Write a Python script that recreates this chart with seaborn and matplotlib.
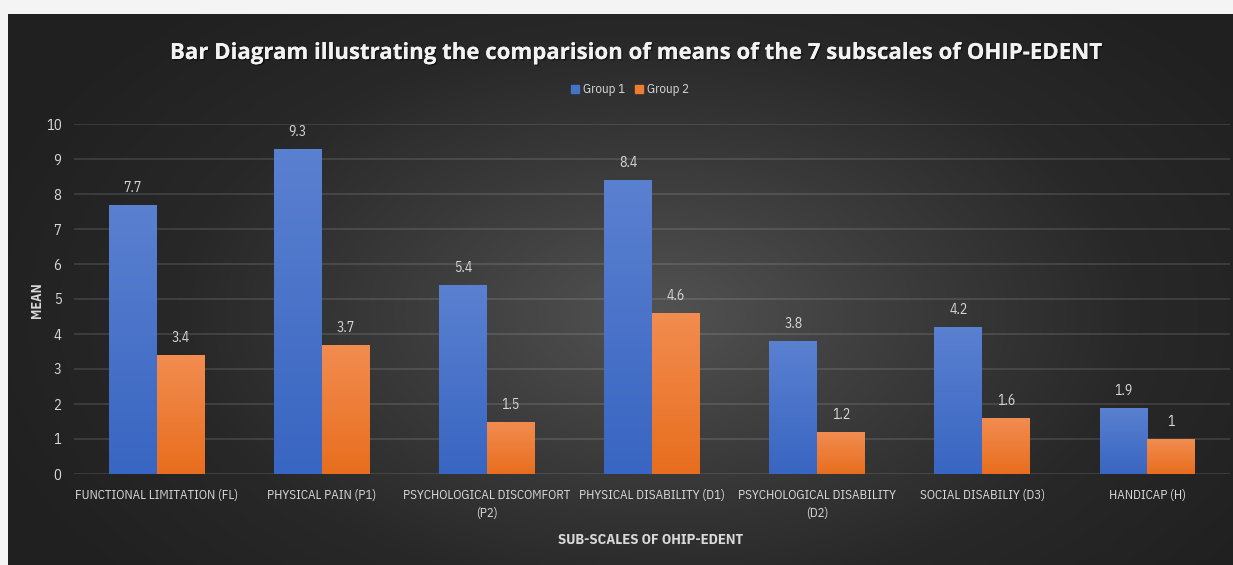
import numpy as np
import pandas as pd
import matplotlib
matplotlib.use("Agg")
import matplotlib.pyplot as plt
import matplotlib.patheffects as pe
import seaborn as sns
from matplotlib import font_manager
from matplotlib.colors import LinearSegmentedColormap

categories = ["FUNCTIONAL LIMITATION (FL)", "PHYSICAL PAIN (P1)", "PSYCHOLOGICAL DISCOMFORT\n(P2)",
              "PHYSICAL DISABILITY (D1)", "PSYCHOLOGICAL DISABILITY\n(D2)", "SOCIAL DISABILIY (D3)", "HANDICAP (H)"]
group1 = [7.7, 9.3, 5.4, 8.4, 3.8, 4.2, 1.9]
group2 = [3.4, 3.7, 1.5, 4.6, 1.2, 1.6, 1.0]
series_names = ["Group 1", "Group 2"]
yticks = [0, 1, 2, 3, 4, 5, 6, 7, 8, 9, 10]

sns.set_theme(style="white")
avail = {f.name for f in font_manager.fontManager.ttflist}
cond = next((n for n in ["IBM Plex Sans Condensed", "Roboto Condensed", "Open Sans"] if n in avail), "DejaVu Sans")
plt.rcParams['font.family'] = [cond, 'DejaVu Sans']

W, H = 1233, 565
fig = plt.figure(figsize=(W / 100, H / 100), dpi=100)
fig.patch.set_facecolor("#f4f4f4")

# background panel with radial gradient
bg = fig.add_axes([8 / W, 0, 1 - 8 / W, 1 - 14 / H])
bg.set_axis_off()
yy, xx = np.mgrid[0:551, 0:1225]
cx, cy = 650, 300
r = np.sqrt(((xx - cx) / 720.0) ** 2 + ((yy - cy) / 420.0) ** 2)
r = np.clip(r, 0, 1)
bgcmap = LinearSegmentedColormap.from_list("bg", ["#525252", "#3c3c3c", "#282828", "#202020"])
bg.imshow(r, cmap=bgcmap, vmin=0, vmax=1, aspect="auto", interpolation="bilinear")

df = pd.DataFrame({
    "cat": categories * 2,
    "mean": group1 + group2,
    "group": [series_names[0]] * len(categories) + [series_names[1]] * len(categories),
})

ax = fig.add_axes([74 / W, (H - 474) / H, 1156 / W, 350 / H])
ax.set_facecolor("none")
palette = {"Group 1": "#4472C4", "Group 2": "#ED7D31"}
sns.barplot(data=df, x="cat", y="mean", hue="group", palette=palette, width=0.58, gap=0,
            saturation=1, ax=ax, errorbar=None, zorder=3)

grads = {0: ["#5a80d0", "#3966c2"], 1: ["#f28c50", "#e86e1e"]}
for ci, cont in enumerate(ax.containers):
    cmap = LinearSegmentedColormap.from_list("g%d" % ci, grads[ci])
    for p in cont.patches:
        x0, y0 = p.get_x(), p.get_y()
        w, h = p.get_width(), p.get_height()
        grad = np.linspace(0, 1, 100).reshape(-1, 1)
        im = ax.imshow(grad, cmap=cmap, extent=(x0, x0 + w, y0, y0 + h), aspect="auto",
                       origin="upper", zorder=3.5, interpolation="bilinear")
        im.set_clip_path(p)
        p.set_edgecolor("none")
    vals = [c.get_height() for c in cont.patches]
    labs = [("%g" % v) for v in vals]
    ax.bar_label(cont, labels=labs, padding=7, color="#d9d9d9", fontsize=10, zorder=5)

ax.set_xlim(-0.5, len(categories) - 0.5)
ax.set_ylim(0, 10)
ax.set_yticks(yticks)
ax.yaxis.grid(True, color="#ffffff", alpha=0.13, linewidth=1.2, zorder=0)
ax.set_axisbelow(True)
for s in ax.spines.values():
    s.set_visible(False)
ax.tick_params(axis="both", length=0, colors="#d9d9d9", labelsize=9.3)
ax.tick_params(axis="y", pad=9, labelsize=10.5)
ax.tick_params(axis="x", pad=11)
for t in ax.get_xticklabels():
    t.set_multialignment("center")
    t.set_linespacing(1.45)
ax.set_xlabel("")
ax.set_ylabel("")

leg = ax.get_legend()
if leg is not None:
    leg.remove()
handles = [plt.Rectangle((0, 0), 1, 1, color=palette[n]) for n in series_names]
fig.legend(handles, series_names, loc="center", bbox_to_anchor=(630 / W, 1 - 90 / H), ncol=2,
           frameon=False, fontsize=9.3, labelcolor="#d9d9d9", handlelength=0.6, handleheight=0.6,
           handletextpad=0.3, columnspacing=0.8)

fig.text(636 / W, 1 - 59 / H, "Bar Diagram illustrating the comparision of means of the 7 subscales of OHIP-EDENT",
         ha="center", va="baseline", color="#f2f2f2", fontsize=16, fontweight="bold",
         family=["Open Sans", "DejaVu Sans"],
         path_effects=[pe.withSimplePatchShadow(offset=(1, -1), shadow_rgbFace="#000000", alpha=0.5),
                       pe.Normal()])
fig.text(37 / W, 1 - 300 / H, "MEAN", rotation=90, ha="center", va="center", color="#d9d9d9",
         fontsize=10, fontweight="bold")
fig.text(651 / W, 1 - 540 / H, "SUB-SCALES OF OHIP-EDENT", ha="center", va="center", color="#d9d9d9",
         fontsize=10.5, fontweight="bold")

fig.savefig("out.png", dpi=100, facecolor=fig.get_facecolor())
